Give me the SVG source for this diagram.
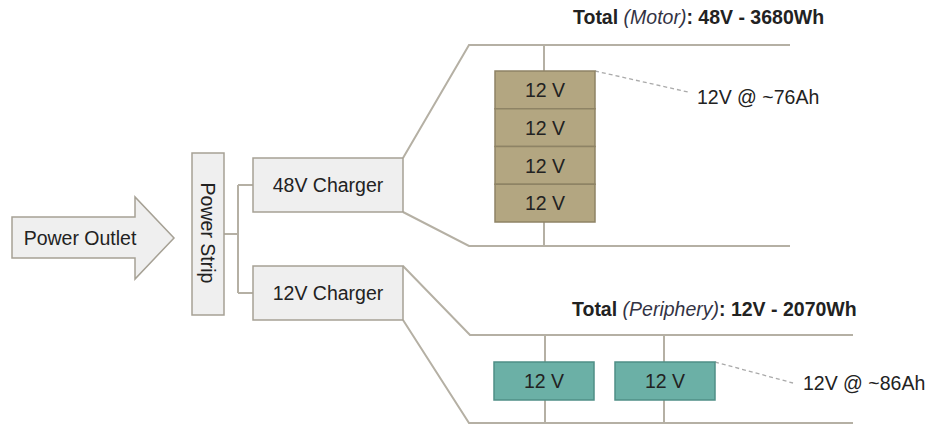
<svg xmlns="http://www.w3.org/2000/svg" width="930" height="424" viewBox="0 0 930 424">
<style>
text{font-family:"Liberation Sans",Arial,sans-serif;font-size:19.5px;fill:#222}
.box{fill:#efefef;stroke:#a6a195;stroke-width:1.5}
.ln{fill:none;stroke:#b5b0a4;stroke-width:2}
.dash{fill:none;stroke:#aaa;stroke-width:1.3;stroke-dasharray:4 3}
.bt{fill:#b3a681;stroke:#8e8365;stroke-width:1.5}
.tl{fill:#6bb0a6;stroke:#4f8f86;stroke-width:1.5}
.c{text-anchor:middle}
.b{font-weight:bold}
.i{font-style:italic;font-weight:normal;fill:#334}
</style>
<rect width="930" height="424" fill="#fff"/>
<g id="connectors">
<path class="ln" d="M224,234H238M238,185V293M238,185H253M238,293H253"/>
<path class="ln" d="M403,158L469,45H790M403,212L469,246H790M544,45V246"/>
<path class="ln" d="M403,266L470,335H853M403,320L469,423H853M545,335V424M664,335V424"/>
<path class="dash" d="M595,71L688,92"/>
<path class="dash" d="M715,362L793,383"/>
</g>
<g id="power-outlet">
<polygon class="box" points="12,217 135,217 135,197 174,238 135,279 135,258 12,258"/>
<text x="80" y="245" class="c">Power Outlet</text>
</g>
<g id="power-strip">
<rect class="box" x="192" y="153" width="32" height="162"/>
<text class="c" transform="translate(201,233) rotate(90)">Power Strip</text>
</g>
<g id="charger-48v">
<rect class="box" x="253" y="158" width="150" height="54"/>
<text x="328" y="192" class="c">48V Charger</text>
</g>
<g id="charger-12v">
<rect class="box" x="253" y="266" width="150" height="54"/>
<text x="328" y="300" class="c">12V Charger</text>
</g>
<g id="motor-title">
<text x="573" y="24" class="b">Total <tspan class="i">(Motor)</tspan>: 48V - 3680Wh</text>
</g>
<g id="motor-batteries">
<rect class="bt" x="495" y="71" width="100" height="37.75"/>
<rect class="bt" x="495" y="108.75" width="100" height="37.75"/>
<rect class="bt" x="495" y="146.5" width="100" height="37.75"/>
<rect class="bt" x="495" y="184.25" width="100" height="37.75"/>
<text x="545" y="97" class="c">12 V</text>
<text x="545" y="134.5" class="c">12 V</text>
<text x="545" y="172.5" class="c">12 V</text>
<text x="545" y="210" class="c">12 V</text>
</g>
<g id="motor-label">
<text x="697" y="104">12V @ ~76Ah</text>
</g>
<g id="periphery-title">
<text x="572" y="316" class="b">Total <tspan class="i">(Periphery)</tspan>: 12V - 2070Wh</text>
</g>
<g id="periphery-battery-1">
<rect class="tl" x="494" y="362" width="100" height="38"/>
<text x="544" y="388" class="c">12 V</text>
</g>
<g id="periphery-battery-2">
<rect class="tl" x="615" y="362" width="100" height="38"/>
<text x="665" y="388" class="c">12 V</text>
</g>
<g id="periphery-label">
<text x="803" y="390">12V @ ~86Ah</text>
</g>
</svg>
